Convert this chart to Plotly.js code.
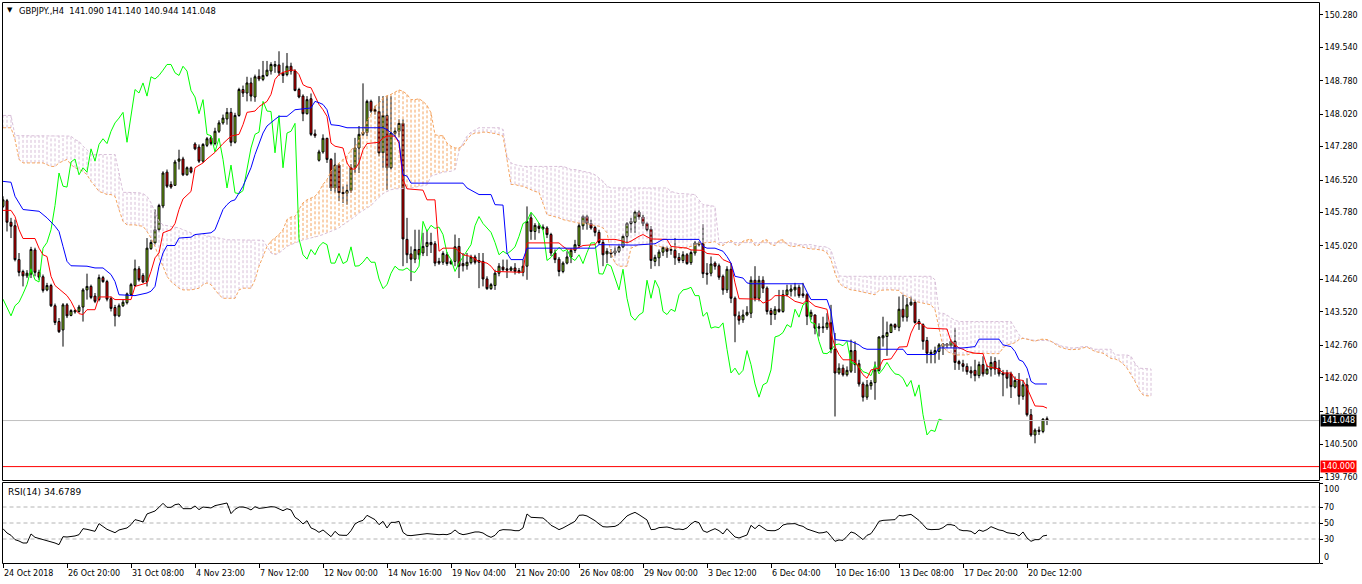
<!DOCTYPE html>
<html><head><meta charset="utf-8">
<script src="https://cdn.plot.ly/plotly-3.0.1.min.js"></script>
<style>html,body{margin:0;padding:0;background:#fff;overflow:hidden}#chart{width:1362px;height:584px}</style>
</head><body><div id="chart"></div>
<script>
const symbolTitle = "GBPJPY.,H4  141.090 141.140 140.944 141.048";
const rsiTitle = "RSI(14) 34.6789";

const openP = [145.92,146.05,145.56,145.48,144.71,144.44,144.34,144.38,144.93,144.42,
144.32,144.02,144.12,143.66,143.30,143.11,143.68,143.44,143.52,143.53,
143.63,144.02,144.10,143.88,143.80,144.30,144.21,143.82,143.62,143.43,
143.66,143.73,143.92,144.12,144.50,144.35,144.21,144.96,145.09,145.39,
145.93,146.70,146.42,146.40,146.95,147.00,146.64,146.80,147.34,147.27,
146.95,147.31,147.48,147.35,147.63,147.82,147.91,148.06,147.38,147.99,
148.58,148.50,148.73,148.41,148.88,148.81,148.90,149.00,149.11,149.14,
148.96,148.92,149.11,149.00,148.58,148.43,148.03,148.37,147.57,146.97,
147.16,147.47,146.99,146.34,146.86,146.24,146.22,146.28,146.80,147.25,
147.56,147.60,148.31,148.12,148.08,147.14,147.99,146.80,147.58,147.63,
147.81,145.17,144.84,144.72,144.94,144.86,145.01,145.10,145.07,144.67,
144.65,144.82,144.62,144.67,145.01,144.62,144.57,144.64,144.77,144.69,
144.67,144.27,144.05,144.12,144.40,144.54,144.50,144.47,144.52,144.46,
144.42,144.56,145.66,145.35,145.47,145.41,145.43,145.28,144.86,144.72,
144.44,144.63,144.77,144.92,145.03,145.48,145.69,145.53,145.44,145.33,
145.10,144.84,144.88,144.86,144.90,145.00,145.24,145.53,145.56,145.79,
145.68,145.53,145.40,144.67,144.75,144.88,144.97,144.92,144.92,144.76,
144.69,144.82,144.64,144.86,145.05,145.07,144.40,144.40,144.63,144.57,
144.33,144.02,144.49,143.83,143.43,143.34,143.45,143.49,144.24,143.83,
144.24,144.06,143.55,143.46,143.58,143.53,143.91,143.99,144.02,144.08,
143.93,143.91,143.42,143.45,143.15,143.18,143.16,143.27,142.67,142.13,
142.24,142.09,142.17,142.64,142.34,141.88,141.58,141.84,141.91,142.19,
142.93,142.96,143.05,143.23,143.17,143.58,143.40,143.68,143.74,143.30,
143.23,142.87,142.60,142.57,142.62,142.73,142.79,142.75,142.85,142.39,
142.34,142.28,142.18,142.19,142.07,142.32,142.11,142.22,142.39,142.24,
142.13,142.13,142.11,141.81,141.96,141.60,141.86,141.18,140.72,140.83,
140.80,141.090];

const highP = [146.15,146.09,145.66,145.62,144.86,144.48,144.47,145.00,144.98,144.48,
144.37,144.18,144.16,143.71,143.38,143.72,143.72,143.58,143.58,143.68,
144.06,144.39,144.14,143.95,144.37,144.34,144.25,143.87,143.68,143.71,
143.80,143.96,144.18,144.71,144.56,144.40,145.20,145.16,145.85,145.98,
146.72,146.76,146.49,146.98,147.21,147.05,146.83,146.83,147.38,147.33,
147.36,147.50,147.52,147.71,147.88,148.01,148.16,148.16,148.05,148.62,
148.67,148.87,148.85,148.92,149.04,149.23,149.23,149.20,149.23,149.45,
149.19,149.41,149.19,149.04,148.62,148.47,148.43,148.49,147.67,147.21,
147.56,147.48,147.02,147.14,146.89,146.38,146.42,146.88,147.48,147.75,
148.72,148.35,148.35,148.21,148.43,148.43,148.43,148.43,147.71,147.90,
147.90,145.66,145.01,145.39,145.39,145.32,145.39,145.32,145.13,144.75,
144.90,144.88,144.71,145.28,145.20,144.86,144.86,144.82,144.82,144.86,
144.86,144.33,144.18,144.48,144.63,144.71,144.71,144.56,144.63,144.52,
144.71,145.92,145.77,145.54,145.54,145.51,145.47,145.32,144.94,144.77,
144.67,144.90,144.97,145.16,145.54,145.73,145.73,145.62,145.48,145.39,
145.16,144.97,144.95,145.01,145.05,145.28,145.56,145.66,145.83,145.83,
145.73,145.56,145.47,144.82,144.94,145.01,145.01,145.01,145.20,144.86,
144.90,144.86,144.92,145.13,145.13,145.51,144.63,144.78,144.67,144.62,
144.37,144.56,144.63,143.87,143.53,143.57,143.65,144.33,144.56,144.34,
144.33,144.10,143.61,143.65,144.02,144.02,144.14,144.14,144.18,144.14,
144.18,143.95,143.57,143.46,143.26,143.41,143.49,143.68,143.04,142.35,
142.32,142.28,142.89,142.85,142.43,141.93,141.97,141.97,142.39,142.96,
143.41,143.30,143.26,143.26,143.87,143.91,143.84,143.87,143.80,143.36,
143.26,142.95,142.66,142.73,142.81,142.81,142.81,142.89,143.15,142.43,
142.43,142.35,142.28,142.43,142.39,142.51,142.32,142.51,142.49,142.43,
142.20,142.20,142.16,142.05,142.13,141.97,142.01,141.31,140.87,140.91,
141.10,141.140];

const lowP = [145.88,145.35,145.20,144.67,144.33,144.10,144.29,144.29,144.33,144.25,
143.96,143.99,143.63,143.22,143.04,142.73,143.38,143.42,143.48,143.50,
143.30,143.80,143.81,143.72,143.76,144.18,143.76,143.53,143.19,143.40,
143.63,143.69,143.88,144.09,144.21,144.18,144.10,144.93,145.05,145.35,
145.88,146.34,146.32,146.39,146.76,146.61,146.62,146.67,147.20,146.91,
146.91,147.27,147.31,147.31,147.59,147.78,147.78,147.29,147.35,147.96,
148.41,148.31,148.31,148.30,148.77,148.77,148.87,148.92,148.96,148.89,
148.73,148.88,148.92,148.54,148.38,147.86,148.01,147.52,147.48,146.94,
147.12,146.91,146.27,146.23,146.04,146.00,145.96,146.23,146.68,146.68,
147.52,147.52,148.05,148.01,147.06,146.80,146.30,146.76,147.52,147.50,
144.56,144.63,144.22,144.63,144.71,144.79,144.79,144.86,144.56,144.59,
144.59,144.57,144.59,144.56,144.29,144.44,144.48,144.60,144.60,144.06,
144.10,144.02,144.02,144.02,144.33,144.44,144.29,144.44,144.37,144.39,
144.33,144.25,145.16,145.16,145.31,145.38,145.20,144.79,144.63,144.33,
144.40,144.60,144.63,144.86,144.97,145.39,145.39,145.39,145.24,145.05,
144.56,144.63,144.75,144.79,144.86,144.97,145.09,145.32,145.32,145.62,
145.47,145.35,144.50,144.56,144.56,144.79,144.75,144.82,144.59,144.63,
144.63,144.59,144.59,144.80,145.01,144.29,144.14,144.33,144.48,144.25,
143.91,143.95,143.72,142.83,143.23,143.27,143.42,143.38,143.76,143.76,
143.95,143.46,143.22,143.34,143.50,143.50,143.87,143.87,143.87,143.84,
143.84,143.22,143.34,143.01,142.96,143.04,143.11,142.58,141.14,142.09,
142.05,142.05,142.13,142.13,141.82,141.48,141.52,141.75,141.52,142.16,
142.73,142.52,143.04,143.11,143.08,143.30,143.30,143.66,143.25,143.11,
142.66,142.35,142.35,142.35,142.43,142.54,142.70,142.70,142.20,142.20,
142.16,142.09,142.01,141.94,142.01,142.05,142.09,142.05,142.09,142.05,
141.60,141.78,141.56,141.78,141.41,141.52,141.14,140.68,140.53,140.72,
140.76,140.944];

const closeP = [146.07,145.56,145.47,144.71,144.42,144.34,144.40,144.94,144.42,144.31,
144.01,144.12,143.66,143.28,143.07,143.68,143.43,143.55,143.55,143.63,
144.02,144.10,143.85,143.76,144.30,144.21,143.81,143.60,143.43,143.66,
143.74,143.93,144.14,144.50,144.25,144.20,144.97,145.10,145.39,145.94,
146.68,146.38,146.36,146.93,147.00,146.64,146.80,146.70,147.23,146.95,
147.33,147.46,147.35,147.63,147.82,147.93,148.06,147.38,147.99,148.58,
148.50,148.73,148.43,148.87,148.82,148.90,149.02,149.15,149.15,148.96,
148.90,149.11,149.00,148.56,148.41,148.03,148.35,147.56,147.53,147.16,
147.47,146.99,146.34,146.86,146.23,146.21,146.28,146.80,147.25,147.56,
147.61,148.31,148.09,148.08,147.14,147.99,146.80,147.59,147.63,147.81,
145.18,144.82,144.72,144.94,144.82,145.01,145.10,145.05,144.63,144.63,
144.85,144.62,144.67,145.00,144.56,144.57,144.65,144.77,144.65,144.65,
144.27,144.05,144.14,144.40,144.56,144.48,144.47,144.52,144.44,144.42,
144.56,145.58,145.35,145.49,145.42,145.45,145.28,144.86,144.71,144.44,
144.63,144.77,144.92,145.05,145.48,145.69,145.53,145.43,145.33,145.10,
144.82,144.90,144.84,144.91,145.00,145.24,145.53,145.58,145.79,145.68,
145.53,145.39,144.69,144.76,144.88,144.99,144.90,144.94,144.75,144.69,
144.82,144.62,144.87,145.09,145.09,144.39,144.38,144.61,144.56,144.31,
144.02,144.49,143.83,143.43,143.33,143.45,143.51,144.24,143.83,144.24,
144.06,143.53,143.46,143.58,143.53,143.91,144.02,144.04,144.08,143.89,
143.89,143.42,143.51,143.15,143.18,143.16,143.27,142.67,142.13,142.24,
142.09,142.19,142.64,142.32,141.88,141.58,141.86,141.91,142.20,142.95,
142.98,143.05,143.23,143.17,143.58,143.40,143.68,143.74,143.28,143.25,
142.85,142.58,142.57,142.64,142.77,142.79,142.75,142.85,142.37,142.34,
142.28,142.16,142.13,142.07,142.32,142.11,142.22,142.37,142.22,142.11,
142.09,142.01,141.82,141.96,141.60,141.86,141.18,140.72,140.83,140.80,
141.08,141.048];

const tenkanBars = [0,2,3,4,5,8,9,10,11,12,13,14,16,17,18,19,20,21,23,24,27,28,32,33,35,36,37,38,39,40,42,43,44,45,47,48,50,51,53,54,55,57,59,60,61,63,64,66,67,68,69,70,72,73,74,75,76,77,78,79,80,81,82,83,85,86,87,88,89,90,91,94,95,96,98,99,100,101,105,106,108,109,110,113,114,115,117,119,121,122,123,130,131,139,140,141,143,145,148,149,153,155,156,157,159,160,162,166,167,171,172,175,176,179,180,182,183,184,189,190,192,193,196,198,200,201,203,206,207,208,209,210,212,213,214,215,216,217,219,220,222,223,224,226,227,228,229,231,236,237,239,240,241,243,245,246,248,249,250,252,253,255,256,257,258,260,261];
const tenkanVals = [145.83,145.83,145.69,145.39,145.19,145.19,144.97,144.82,144.78,144.33,
144.12,144.05,143.89,143.76,143.58,143.48,143.46,143.57,143.57,143.86,
143.86,143.80,143.80,144.10,144.16,144.18,144.44,144.75,144.86,145.32,
145.39,145.53,145.85,146.09,146.26,146.80,146.91,147.00,147.15,147.25,
147.35,147.52,147.56,147.78,148.06,148.09,148.19,148.31,148.47,148.81,
148.92,148.97,149.02,149.02,148.92,148.69,148.64,148.62,148.41,148.24,
148.12,147.97,147.36,147.29,147.25,146.91,146.77,146.77,146.91,147.21,
147.35,147.38,147.48,147.52,147.52,147.36,146.53,146.32,146.29,146.07,
146.07,144.90,144.97,144.97,144.90,144.82,144.78,144.67,144.63,144.56,
144.44,144.42,145.09,145.09,145.01,144.95,144.95,145.03,145.05,145.17,
145.17,145.13,145.09,145.13,145.24,145.28,145.18,145.17,145.01,144.97,
144.93,144.92,144.85,144.82,144.71,144.63,144.18,143.82,143.81,143.72,
143.80,143.89,143.89,143.76,143.71,143.80,143.65,143.58,143.04,142.73,
142.55,142.43,142.43,142.39,142.24,142.09,142.01,142.20,142.24,142.43,
142.45,142.58,142.72,142.73,143.04,143.23,143.28,143.15,143.13,142.85,
142.70,142.67,142.62,142.58,142.57,142.28,142.24,142.22,142.13,142.13,
141.99,141.96,141.79,141.60,141.38,141.37,141.33];

const kijunBars = [0,2,3,5,9,11,13,14,15,16,17,21,23,25,27,28,29,33,36,37,38,39,40,41,43,44,47,48,52,53,54,55,56,57,58,60,62,63,65,66,68,69,71,73,77,78,79,80,81,82,84,86,95,96,98,99,100,101,102,115,116,118,119,122,123,125,126,127,130,131,148,149,157,158,163,164,165,174,175,176,178,180,181,182,183,185,186,187,200,201,202,206,207,208,212,214,215,216,225,226,233,234,240,243,244,249,250,252,253,254,255,256,257,258,261];
const kijunVals = [146.49,146.47,146.15,145.85,145.81,145.66,145.47,145.35,145.01,144.67,
144.57,144.56,144.52,144.52,144.37,144.21,143.91,143.89,143.95,143.99,
144.10,144.56,144.86,145.03,145.03,145.20,145.22,145.28,145.32,145.39,
145.62,145.85,145.96,146.04,146.07,146.38,146.80,147.10,147.59,147.75,
147.90,147.97,147.97,148.12,148.16,148.31,148.28,148.24,148.12,147.78,
147.76,147.71,147.71,147.67,147.52,147.40,146.64,146.61,146.45,146.45,
146.34,146.24,146.19,146.19,145.96,145.95,144.86,144.71,144.71,144.97,
144.97,145.05,145.05,145.04,145.07,145.13,145.17,145.17,145.01,144.97,
144.97,144.90,144.78,144.63,144.33,144.29,144.18,144.16,144.16,143.97,
143.80,143.80,143.53,142.89,142.85,142.77,142.70,142.67,142.67,142.55,
142.55,142.70,142.70,142.73,142.90,142.90,142.77,142.73,142.62,142.43,
142.39,142.24,141.94,141.88,141.88];

const spanA = [147.71,147.71,147.71,147.44,146.99,146.91,146.91,146.91,146.91,146.91,
146.91,146.87,146.83,146.83,146.91,146.95,146.99,146.87,146.80,146.76,
146.72,146.64,146.49,146.38,146.26,146.23,146.19,146.19,146.15,145.85,
145.58,145.50,145.50,145.50,145.48,145.47,145.35,145.20,145.01,144.75,
144.56,144.33,144.21,144.14,144.06,144.02,144.02,144.02,144.04,144.06,
144.14,144.18,144.14,144.02,143.91,143.83,143.83,143.83,143.83,144.02,
144.06,144.06,144.06,144.25,144.56,144.78,145.01,145.13,145.20,145.28,
145.39,145.62,145.68,145.69,145.85,146.00,146.07,146.11,146.15,146.26,
146.42,146.53,146.72,146.83,146.91,147.00,147.06,147.21,147.27,147.44,
147.63,147.86,148.01,148.20,148.26,148.39,148.44,148.47,148.52,148.57,
148.54,148.47,148.35,148.35,148.37,148.31,148.22,148.05,147.55,147.53,
147.53,147.36,147.29,147.25,147.25,147.30,147.44,147.55,147.59,147.59,
147.61,147.61,147.59,147.58,147.55,147.52,146.99,146.42,146.42,146.39,
146.38,146.34,146.30,146.26,146.24,146.00,145.73,145.71,145.69,145.66,
145.62,145.60,145.58,145.56,145.54,145.54,145.53,145.50,145.48,145.47,
145.43,145.32,144.86,144.63,144.56,144.56,144.56,144.97,145.01,145.05,
145.06,145.06,145.05,145.03,145.01,144.99,144.97,144.97,144.97,144.97,
144.97,144.99,145.01,145.03,145.07,145.09,145.10,145.10,145.12,145.05,
145.03,145.10,145.15,145.05,145.03,145.13,145.16,145.18,145.03,145.04,
145.15,145.16,145.05,145.03,145.15,145.16,145.05,145.01,145.01,145.03,
144.99,144.97,144.95,144.95,144.93,144.92,144.86,144.71,144.40,144.18,
144.10,144.06,144.02,144.01,143.99,143.96,143.95,143.93,143.91,144.01,
144.02,144.02,144.02,144.02,144.01,143.91,143.87,143.83,143.76,143.74,
143.72,143.71,143.68,143.57,143.11,142.73,142.62,142.58,142.54,142.54,
142.54,142.54,142.57,142.58,142.58,142.58,142.57,142.57,142.57,142.57,
142.70,142.77,142.79,142.82,142.89,142.92,142.90,142.87,142.85,142.89,
142.90,142.89,142.85,142.79,142.73,142.70,142.67,142.66,142.66,142.67,
142.70,142.72,142.67,142.62,142.60,142.58,142.52,142.46,142.45,142.41,
142.34,142.24,142.09,141.94,141.75,141.63,141.61,141.61];

const spanB = [147.99,147.99,147.99,147.53,147.53,147.53,147.53,147.53,147.53,147.53,
147.53,147.53,147.53,147.53,147.53,147.53,147.53,147.52,147.44,147.40,
147.29,147.21,147.10,147.10,147.10,147.10,147.10,147.10,147.10,146.68,
146.24,146.24,146.24,146.24,146.23,146.21,146.15,146.00,145.77,145.58,
145.50,145.48,145.47,145.45,145.43,145.39,145.35,145.32,145.25,145.27,
145.28,145.25,145.24,145.22,145.20,145.18,145.16,145.16,145.16,145.16,
145.16,145.16,145.16,145.16,145.16,145.15,145.01,144.86,144.82,144.86,
144.93,145.01,145.05,145.09,145.13,145.16,145.18,145.20,145.22,145.25,
145.28,145.32,145.35,145.39,145.43,145.50,145.56,145.62,145.69,145.77,
145.83,145.89,145.94,146.04,146.13,146.21,146.26,146.30,146.32,146.32,
146.33,146.33,146.34,146.36,146.38,146.39,146.41,146.61,146.64,146.68,
146.70,146.71,146.72,146.76,147.18,147.36,147.52,147.61,147.67,147.71,
147.71,147.71,147.71,147.71,147.71,147.67,147.06,146.91,146.87,146.85,
146.83,146.83,146.83,146.83,146.83,146.83,146.83,146.83,146.83,146.83,
146.83,146.80,146.76,146.76,146.74,146.72,146.70,146.68,146.64,146.57,
146.49,146.38,146.34,146.34,146.34,146.34,146.34,146.34,146.34,146.34,
146.34,146.34,146.34,146.34,146.34,146.34,146.34,146.26,146.23,146.21,
146.21,146.20,146.19,146.19,146.07,145.96,145.95,145.94,145.92,145.10,
145.10,145.09,145.09,145.09,145.09,145.09,145.09,145.09,145.09,145.09,
145.09,145.09,145.09,145.09,145.09,145.09,145.09,145.09,145.07,145.05,
145.05,145.05,145.05,145.03,145.01,145.01,144.99,144.93,144.63,144.34,
144.33,144.33,144.33,144.33,144.33,144.33,144.33,144.33,144.33,144.33,
144.33,144.33,144.33,144.33,144.33,144.33,144.33,144.33,144.33,144.33,
144.33,144.33,144.33,144.25,143.49,143.49,143.45,143.38,143.33,143.30,
143.30,143.30,143.30,143.30,143.30,143.30,143.30,143.30,143.30,143.30,
143.30,143.30,143.30,143.15,143.00,142.92,142.90,142.89,142.87,142.87,
142.87,142.87,142.85,142.81,142.77,142.73,142.72,142.70,142.70,142.72,
142.73,142.73,142.70,142.67,142.67,142.67,142.67,142.67,142.54,142.54,
142.54,142.54,142.51,142.35,142.24,142.23,142.22,142.22];

const rsiVals = [42.9,37.5,34.6,29.2,27.5,25.0,25.0,36.3,32.1,30.8,
29.6,28.3,26.3,25.0,22.9,32.9,32.5,32.9,33.8,35.4,
42.9,42.1,40.8,39.6,49.2,45.8,42.1,40.0,37.9,41.3,
42.1,43.8,47.9,54.2,52.9,51.3,61.3,63.3,65.0,69.6,
74.6,69.6,69.6,72.9,73.8,67.9,67.9,67.9,71.3,66.7,
70.0,69.6,68.8,71.7,72.9,73.8,75.0,61.7,67.1,70.0,
70.0,68.8,66.3,70.4,68.3,68.8,69.6,70.4,70.0,67.9,
65.4,67.9,66.3,57.1,53.8,48.8,52.9,43.8,41.7,38.3,
41.3,37.1,32.9,39.6,35.0,34.6,34.6,40.4,48.8,51.7,
53.3,59.6,57.1,54.2,47.9,52.1,43.8,50.8,50.8,52.1,
38.3,34.6,34.2,35.0,35.8,36.3,36.7,36.3,35.4,35.4,
35.8,35.4,37.1,41.3,37.1,35.4,36.3,37.9,38.8,38.8,
37.5,34.2,32.1,34.6,40.4,41.7,41.7,41.3,40.4,40.4,
43.8,61.3,57.1,57.1,57.1,56.3,52.1,47.1,44.6,41.7,
43.8,46.7,48.8,52.1,59.6,60.0,58.8,55.8,52.9,48.8,
45.4,45.0,45.0,45.8,48.3,54.2,58.8,61.3,63.3,60.4,
57.5,53.8,41.7,42.1,44.2,45.0,45.0,43.8,42.1,42.5,
41.7,43.8,48.8,52.1,50.4,40.4,38.3,40.8,42.9,40.4,
36.3,42.9,38.3,32.5,31.3,32.9,35.0,47.1,42.9,47.5,
44.2,40.8,40.4,40.4,42.5,47.5,48.8,48.8,49.2,47.1,
45.8,42.5,40.8,38.3,37.5,37.9,39.2,33.3,27.1,28.8,
28.3,33.3,38.8,37.1,32.9,29.2,34.6,36.7,43.8,52.1,
53.3,53.3,53.3,54.2,59.6,58.8,60.0,60.8,57.1,53.3,
47.9,42.5,41.7,42.1,42.1,44.2,47.9,47.9,46.7,41.7,
40.4,40.4,39.6,36.3,41.3,39.6,41.7,45.4,42.9,41.3,
40.4,37.9,37.1,36.7,33.8,38.8,31.3,27.1,29.2,29.2,
33.8,34.68];

const chikouShift = 26;
const dateTickBars = [0,16,32,48,64,80,96,112,128,144,160,176,192,208,224,240,256];
const dateTickLabels = ["24 Oct 2018","26 Oct 20:00","31 Oct 08:00","4 Nov 23:00","7 Nov 12:00","12 Nov 00:00","14 Nov 16:00","19 Nov 04:00","21 Nov 20:00","26 Nov 08:00","29 Nov 00:00","3 Dec 12:00","6 Dec 04:00","10 Dec 16:00","13 Dec 08:00","17 Dec 20:00","20 Dec 12:00"];
const priceTicks = [150.28,149.54,148.78,148.02,147.28,146.52,145.78,145.02,144.26,143.52,142.76,142.02,141.26,140.50,139.76];
const rsiLevels = [70,50,30];
const rsiAxisLabels = [100,70,50,30,0];
const bidPrice = 141.048;
const alertPrice = 140.000;

// ---------- layout helpers (pixels -> paper) ----------
const W = 1362, H = 584;
const PX = v => v / W, PY = v => 1 - v / H;
const FONT = 'DejaVu Sans, Tahoma, Verdana, sans-serif';
const f8 = {family: FONT, size: 8, color: '#000'};

const bars = closeP.map((_, i) => i);
const cloudBars = spanA.map((_, i) => i);

// hatch segments between the two spans (one per bar)
const hatchUp = {x: [], y: []}, hatchDn = {x: [], y: []};
cloudBars.forEach(i => {
  const t = spanA[i] >= spanB[i] ? hatchUp : hatchDn;
  t.x.push(i, i, null); t.y.push(spanA[i], spanB[i], null);
});

const chikouX = bars.slice(chikouShift).map(i => i - chikouShift);
const chikouY = closeP.slice(chikouShift);

const traces = [
  {type: 'candlestick', x: bars, open: openP, high: highP, low: lowP, close: closeP,
   xaxis: 'x', yaxis: 'y', whiskerwidth: 0, hoverinfo: 'skip', showlegend: false,
   increasing: {line: {color: '#000', width: 1}, fillcolor: '#8fd51c'},
   decreasing: {line: {color: '#000', width: 1}, fillcolor: '#ff0000'}},
  {type: 'scatter', mode: 'lines', x: hatchDn.x, y: hatchDn.y, connectgaps: false,
   line: {color: '#d8bfd8', width: 1, dash: '3px,2px'}, hoverinfo: 'skip', showlegend: false},
  {type: 'scatter', mode: 'lines', x: hatchUp.x, y: hatchUp.y, connectgaps: false,
   line: {color: '#f4a460', width: 1, dash: '3px,2px'}, hoverinfo: 'skip', showlegend: false},
  {type: 'scatter', mode: 'lines', x: cloudBars, y: spanB,
   line: {color: '#d8bfd8', width: 1, dash: '3px,2px'}, hoverinfo: 'skip', showlegend: false},
  {type: 'scatter', mode: 'lines', x: cloudBars, y: spanA,
   line: {color: '#f4a460', width: 1, dash: '3px,2px'}, hoverinfo: 'skip', showlegend: false},
  {type: 'scatter', mode: 'lines', x: chikouX, y: chikouY,
   line: {color: '#00ff00', width: 1}, hoverinfo: 'skip', showlegend: false},
  {type: 'scatter', mode: 'lines', x: tenkanBars, y: tenkanVals,
   line: {color: '#ff0000', width: 1}, hoverinfo: 'skip', showlegend: false},
  {type: 'scatter', mode: 'lines', x: kijunBars, y: kijunVals,
   line: {color: '#0000ff', width: 1}, hoverinfo: 'skip', showlegend: false},
  {type: 'scatter', mode: 'lines', x: bars, y: rsiVals, xaxis: 'x', yaxis: 'y2',
   line: {color: '#000', width: 1}, hoverinfo: 'skip', showlegend: false}
];

const shapes = [
  {type: 'line', xref: 'paper', yref: 'y', x0: PX(2.5), x1: PX(1319.5), y0: bidPrice, y1: bidPrice,
   line: {color: '#c0c0c0', width: 1}},
  {type: 'line', xref: 'paper', yref: 'y', x0: PX(2.5), x1: PX(1319.5), y0: alertPrice, y1: alertPrice,
   line: {color: '#ff0000', width: 1}},
  ...rsiLevels.map(v => ({type: 'line', xref: 'paper', yref: 'y2', x0: PX(2.5), x1: PX(1319.5), y0: v, y1: v,
   line: {color: '#b4b4b4', width: 1, dash: '4px,3px'}, layer: 'below'})),
  {type: 'rect', xref: 'paper', yref: 'paper', x0: PX(2.5), x1: PX(1319.5), y0: PY(480.5), y1: PY(2.5),
   line: {color: '#000', width: 1}, layer: 'above'},
  {type: 'rect', xref: 'paper', yref: 'paper', x0: PX(2.5), x1: PX(1319.5), y0: PY(563.5), y1: PY(482.5),
   line: {color: '#000', width: 1}, layer: 'above'}
];

const annotations = [
  {xref: 'paper', yref: 'paper', x: PX(5), y: PY(10), xanchor: 'left', yanchor: 'middle',
   text: '▼', showarrow: false, font: {family: FONT, size: 7, color: '#000'}},
  {xref: 'paper', yref: 'paper', x: PX(17), y: PY(10.5), xanchor: 'left', yanchor: 'middle',
   text: symbolTitle.replace('  ', '&nbsp; '), showarrow: false, font: {family: FONT, size: 8.4, color: '#000'}},
  {xref: 'paper', yref: 'paper', x: PX(6), y: PY(492), xanchor: 'left', yanchor: 'middle',
   text: rsiTitle, showarrow: false, font: {family: FONT, size: 9, color: '#000'}},
  ...dateTickBars.map((b, k) => ({xref: 'x', yref: 'paper', x: b, y: PY(573.5), xanchor: 'left', yanchor: 'middle',
   xshift: -1, text: dateTickLabels[k], showarrow: false, font: f8})),
  ...rsiAxisLabels.map(v => ({xref: 'paper', yref: 'y2', x: PX(1322), y: v, xanchor: 'left', yanchor: 'middle',
   yshift: v === 100 ? -6 : (v === 0 ? 6 : 0), text: String(v), showarrow: false, font: f8})),
  {xref: 'paper', yref: 'y', x: PX(1319.5), y: bidPrice, xanchor: 'left', yanchor: 'middle',
   text: bidPrice.toFixed(3), showarrow: false, bgcolor: '#000', borderpad: 1,
   font: {family: FONT, size: 8, color: '#fff'}},
  {xref: 'paper', yref: 'y', x: PX(1319.5), y: alertPrice, xanchor: 'left', yanchor: 'middle',
   text: alertPrice.toFixed(3), showarrow: false, bgcolor: '#ff0000', borderpad: 1,
   font: {family: FONT, size: 8, color: '#fff'}}
];

const layout = {
  width: W, height: H, margin: {l: 0, r: 0, t: 0, b: 0},
  paper_bgcolor: '#fff', plot_bgcolor: '#fff', showlegend: false,
  xaxis: {domain: [PX(2), PX(1319)], range: [-0.25, 329], anchor: 'y2',
    showgrid: false, zeroline: false, showline: false, rangeslider: {visible: false},
    tickmode: 'array', tickvals: dateTickBars, showticklabels: false,
    ticks: 'outside', ticklen: 4, tickwidth: 1, tickcolor: '#000', fixedrange: true},
  yaxis: {domain: [PY(480), PY(2.5)], range: [139.695, 150.56], anchor: 'x', side: 'right',
    showgrid: false, zeroline: false, showline: false,
    tickmode: 'array', tickvals: priceTicks, tickformat: '.3f',
    ticks: 'outside', ticklen: 3, tickwidth: 1, tickcolor: '#000', tickfont: f8, fixedrange: true},
  yaxis2: {domain: [PY(563), PY(482)], range: [0, 101.25], anchor: 'x', side: 'right',
    showgrid: false, zeroline: false, showline: false,
    tickmode: 'array', tickvals: rsiAxisLabels, showticklabels: false,
    ticks: 'outside', ticklen: 3, tickwidth: 1, tickcolor: '#000', fixedrange: true},
  shapes: shapes,
  annotations: annotations
};

Plotly.newPlot('chart', traces, layout, {staticPlot: true, displayModeBar: false});
</script>
</body></html>
